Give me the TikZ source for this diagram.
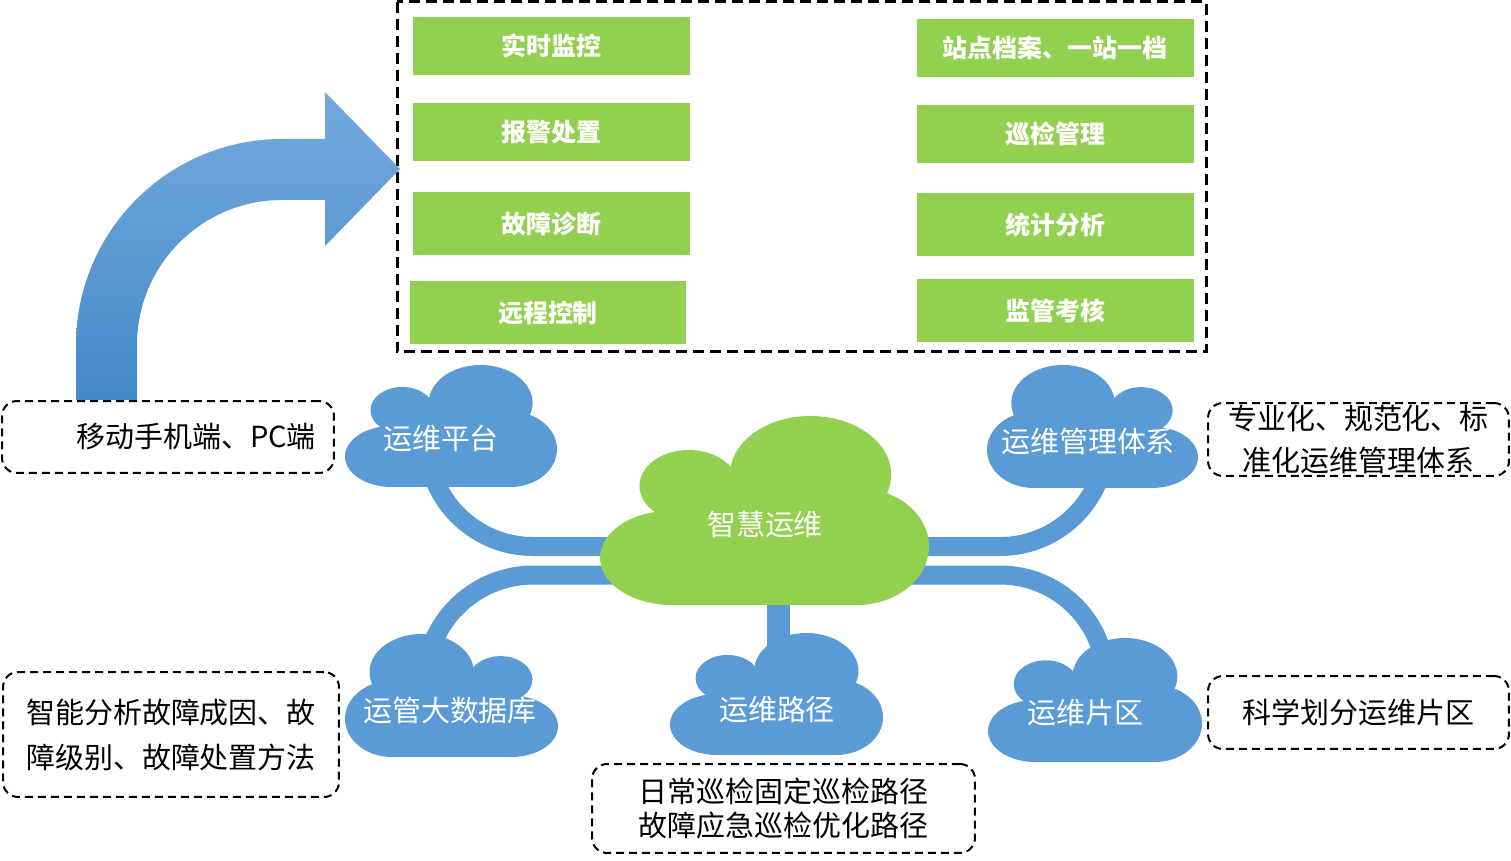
\documentclass[tikz,border=0pt]{standalone}
\usepackage{fontspec}
\setmainfont{Noto Sans CJK SC}
\usepackage{tikz}
\usetikzlibrary{positioning}

\definecolor{leafgreen}{RGB}{146,208,80}
\definecolor{skyblue}{RGB}{91,155,213}
\definecolor{arrowtop}{RGB}{116,170,221}
\definecolor{arrowbot}{RGB}{68,137,201}

\begin{document}
\begin{tikzpicture}[
    x=0.02cm, y=-0.02cm,
    func/.style={fill=leafgreen, minimum width=5.54cm, minimum height=1.16cm, text=white, font=\bfseries\fontsize{14.2}{17}\selectfont},
    note/.style={draw, dash pattern=on 0.16cm off 0.1cm, line width=0.04cm, rounded corners=0.3cm, align=center, font=\fontsize{16.5}{20}\selectfont},
    cloudtext/.style={text=white, font=\fontsize{16.5}{20}\selectfont},
    band/.style={draw=skyblue, line width=0.38cm},
    frame/.style={draw, dash pattern=on 0.22cm off 0.12cm, line width=0.06cm},
    pics/cloudpic/.style n args={3}{code={
        \begin{scope}[xscale=#1, yscale=#2]
            \fill[#3] (-0.23,-0.13) ellipse [x radius=0.15, y radius=0.19];
            \fill[#3] (0.14,-0.19) ellipse [x radius=0.245, y radius=0.31];
            \fill[#3] (-0.28,0.25) ellipse [x radius=0.22, y radius=0.25];
            \fill[#3] (0.28,0.19) ellipse [x radius=0.22, y radius=0.31];
            \fill[#3] (-0.3,-0.2) rectangle (0.3,0.5);
        \end{scope}
    }}
]
    \useasboundingbox (0,0) rectangle (1511,861);

    % functions of the platform
    \draw[frame] (397,2) rectangle (1206,352);
    \node[func] (monitor) at (551.5,46) {实时监控};
    \node[func, below=0.54cm of monitor] (alarm) {报警处置};
    \node[func, minimum height=1.26cm, below=0.62cm of alarm] (diagnose) {故障诊断};
    \node[func, minimum height=1.26cm, below=0.5cm of diagnose, xshift=-0.07cm] (remote) {远程控制};
    \node[func, right=4.52cm of monitor, yshift=-0.04cm] (archive) {站点档案、一站一档};
    \node[func, below=0.54cm of archive] (patrol) {巡检管理};
    \node[func, minimum height=1.26cm, below=0.6cm of patrol] (stats) {统计分析};
    \node[func, minimum height=1.26cm, below=0.44cm of stats] (audit) {监管考核};

    % bent arrow
    \shade[top color=arrowtop, bottom color=arrowbot]
        (76,400) -- (76,345) arc[start angle=180, end angle=270, radius=206]
        -- (325,139) -- (325,92) -- (400,169) -- (325,246) -- (325,200)
        -- (282,200) arc[start angle=270, end angle=180, radius=145]
        -- (137,400) -- cycle;

    % bands
    \coordinate (platform-foot) at (427,430);
    \coordinate (system-foot) at (1106,430);
    \coordinate (bigdata-top) at (425,700);
    \coordinate (zone-top) at (1106,710);
    \coordinate (hub-up) at (765,546.5);
    \coordinate (hub-low) at (765,575);
    \coordinate (hub-foot) at (778,560);
    \coordinate (pathway-top) at (778,690);
    \draw[band, rounded corners=2.12cm] (platform-foot) |- (hub-up);
    \draw[band, rounded corners=2.12cm] (system-foot) |- (hub-up);
    \draw[band, rounded corners=2.17cm] (bigdata-top) |- (hub-low);
    \draw[band, rounded corners=2.12cm] (zone-top) |- (hub-low);
    \draw[band, line width=0.46cm] (hub-foot) -- (pathway-top);

    % clouds
    \pic at (451,426) {cloudpic={212}{122}{skyblue}};
    \pic at (764.5,510.5) {cloudpic={329}{189}{leafgreen}};
    \pic at (1092.5,426.5) {cloudpic={-211}{123}{skyblue}};
    \pic at (451.5,695.5) {cloudpic={-213}{123}{skyblue}};
    \pic at (776.5,694) {cloudpic={213}{122}{skyblue}};
    \pic at (1095,700) {cloudpic={214}{124}{skyblue}};

    \node[cloudtext] (platform) at (441,438) {运维平台};
    \node[cloudtext] (hub) at (765,524) {智慧运维};
    \node[cloudtext] (system) at (1088,441) {运维管理体系};
    \node[cloudtext] (bigdata) at (450,710) {运管大数据库};
    \node[cloudtext] (pathway) at (777,710) {运维路径};
    \node[cloudtext] (zone) at (1085.5,713) {运维片区};

    % notes
    \node[note, minimum width=6.64cm, minimum height=1.44cm, text width=5.92cm, align=right] (mobile) at (168,437) {移动手机端、PC端};
    \node[note, minimum width=6.72cm, minimum height=2.5cm, font=\fontsize{16.5}{25.6}\selectfont] (cause) at (171,734.5) {智能分析故障成因、故\\障级别、故障处置方法};
    \node[note, minimum width=7.66cm, minimum height=1.78cm, font=\fontsize{16.5}{19.4}\selectfont] (route) at (783.5,808.5) {日常巡检固定巡检路径\\故障应急巡检优化路径};
    \node[note, minimum width=6.02cm, minimum height=1.46cm, inner ysep=0pt, font=\fontsize{16.5}{23.9}\selectfont] (norm) at (1358.5,439.5) {专业化、规范化、标\\准化运维管理体系};
    \node[note, minimum width=6.02cm, minimum height=1.46cm] (division) at (1358.5,712.5) {科学划分运维片区};
\end{tikzpicture}
\end{document}
